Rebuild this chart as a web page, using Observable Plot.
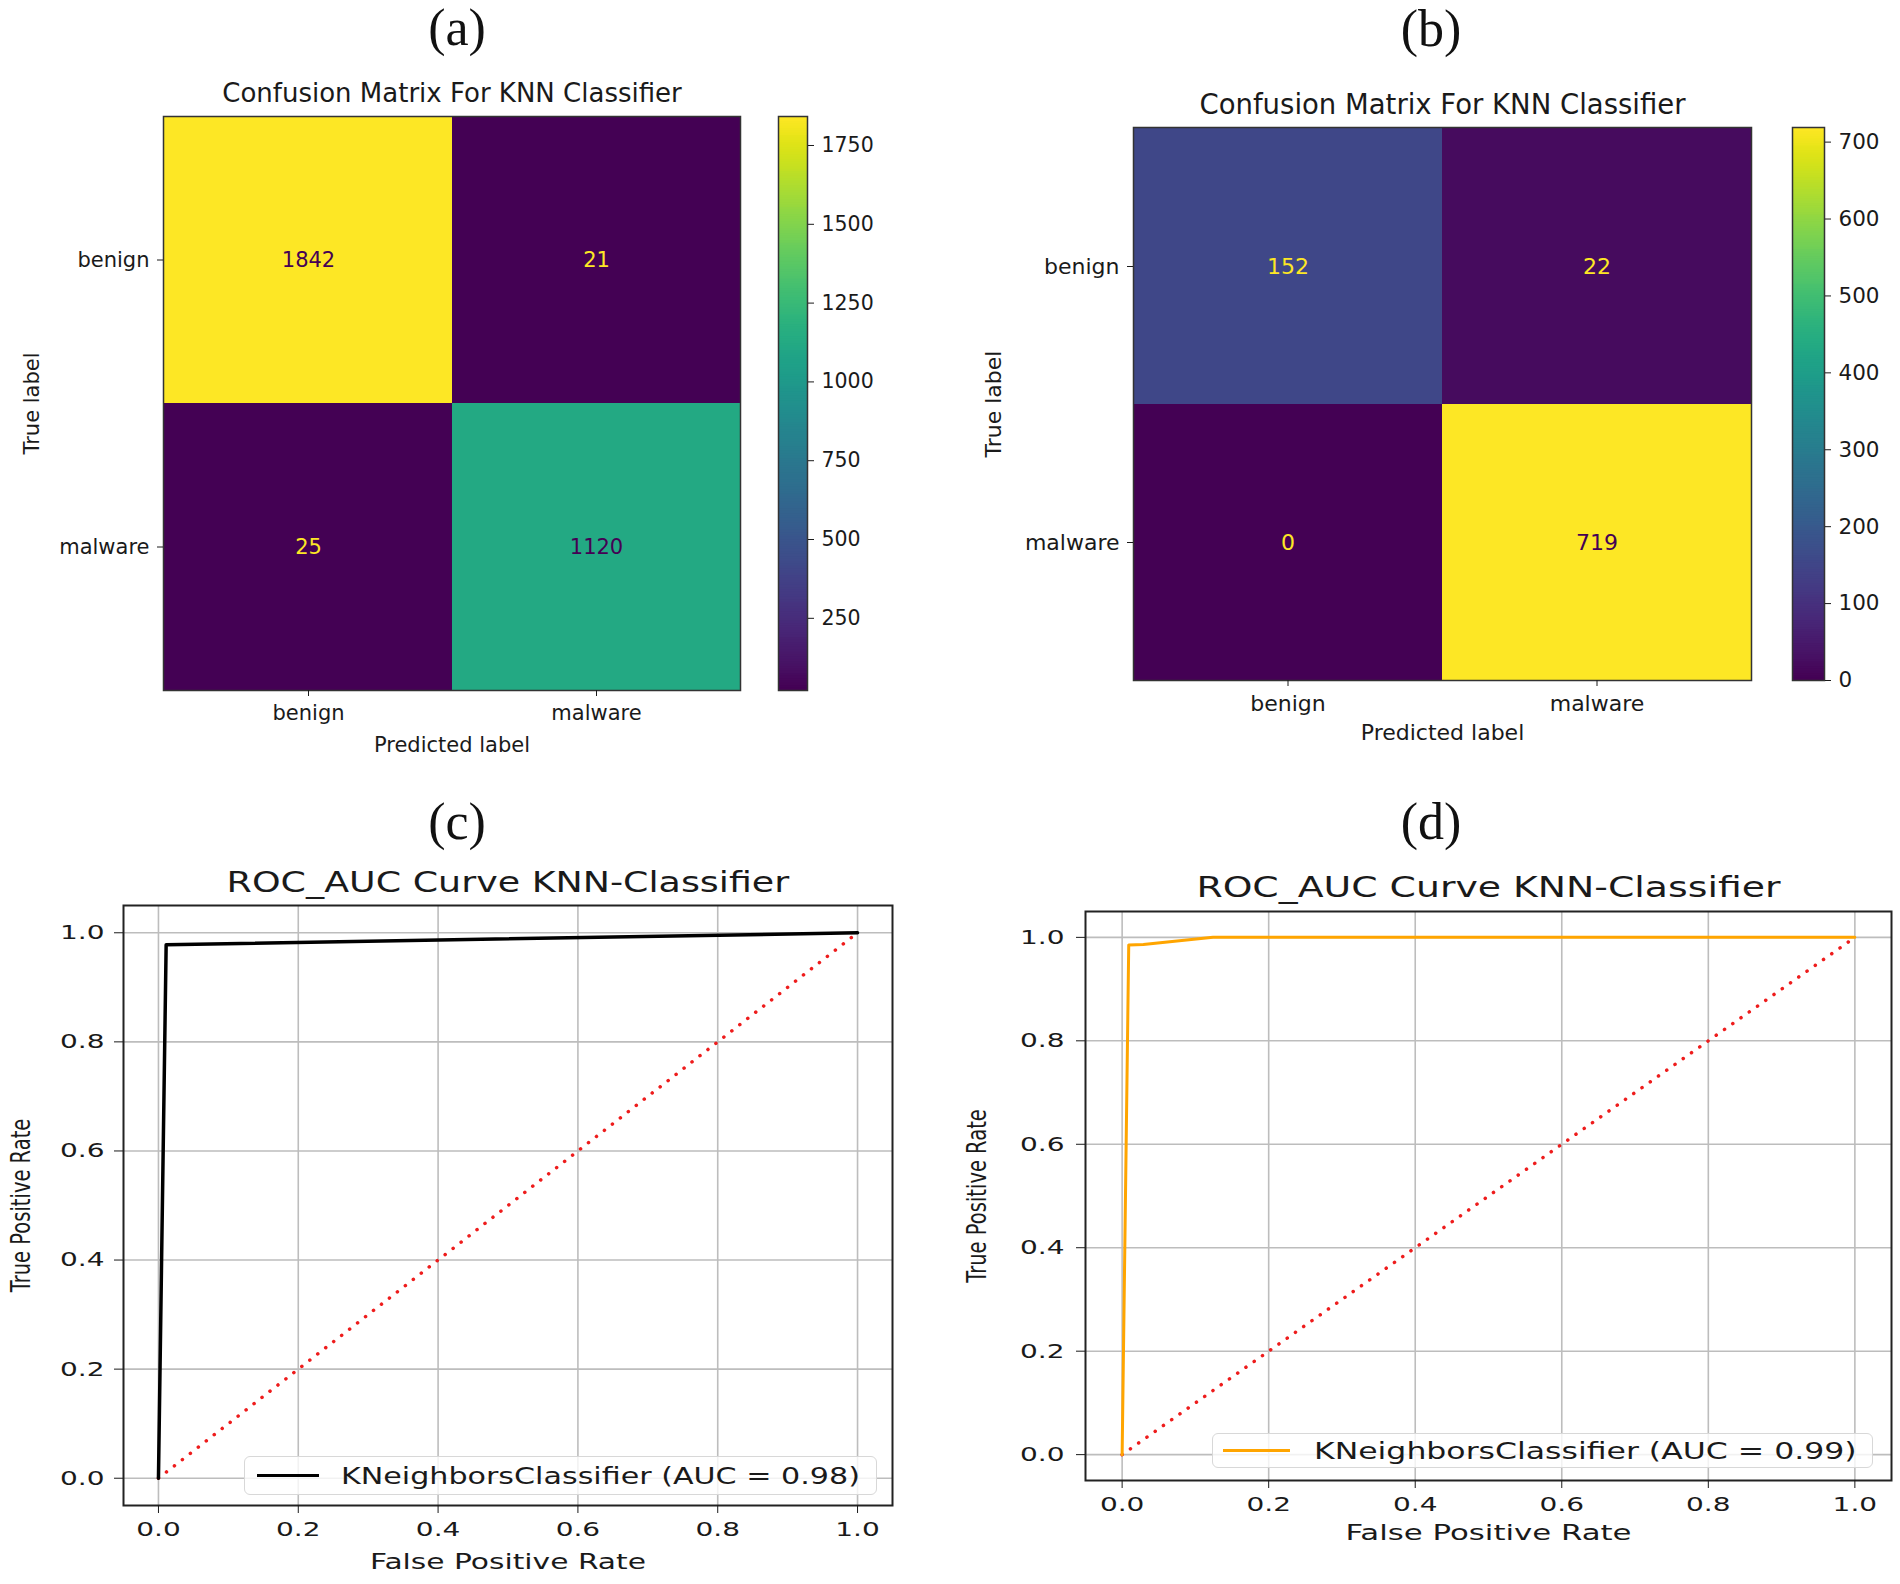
<!DOCTYPE html>
<html>
<head>
<meta charset="utf-8">
<script src="https://cdn.jsdelivr.net/npm/d3@7"></script>
<script src="https://cdn.jsdelivr.net/npm/@observablehq/plot@0.6"></script>
<style>
  body { margin: 0; background: #fff; }
  #root { position: relative; width: 1900px; height: 1584px; background: #fff; overflow: hidden; font-family: "DejaVu Sans"; color: #1a1a1a; }
  .wrap { position: absolute; }
  .panel-label { position: absolute; font-family: "Liberation Serif"; font-size: 52px; line-height: 52px; transform: translateX(-50%); white-space: nowrap; color: #111; }
  .legend { position: absolute; box-sizing: border-box; border: 1.5px solid #d8d8d8; border-radius: 6px; background: rgba(255,255,255,0.8); }
  .legend .sample { position: absolute; top: 50%; height: 3px; margin-top: -1.5px; }
  .legend .txt { position: absolute; top: 50%; transform-origin: left center; font-family: "DejaVu Sans"; font-size: 23px; line-height: 23px; white-space: nowrap; color: #1a1a1a; }
</style>
</head>
<body>
<div id="root"></div>
<script>
// ---------- data ----------
const labels = ["benign", "malware"];
const cmA = [[1842, 21], [25, 1120]];
const cmB = [[152, 22], [0, 719]];
const cbTicksA = [250, 500, 750, 1000, 1250, 1500, 1750];
const cbTicksB = [0, 100, 200, 300, 400, 500, 600, 700];
const rocTicks = [0, 0.2, 0.4, 0.6, 0.8, 1.0];
const rocC_fpr = [0, 0.011, 1];
const rocC_tpr = [0, 0.978, 1];
const rocD_fpr = [0, 0.009, 0.029, 0.124, 1];
const rocD_tpr = [0, 0.985, 0.986, 1, 1];
const chance = [0, 1];
const panelLabels = ["(a)", "(b)", "(c)", "(d)"];
const titleCM = "Confusion Matrix For KNN Classifier";
const titleROC = "ROC_AUC Curve KNN-Classifier";
const xLabelROC = "False Positive Rate";
const yLabelROC = "True Positive Rate";
const legendC = "KNeighborsClassifier (AUC = 0.98)";
const legendD = "KNeighborsClassifier (AUC = 0.99)";

const root = document.getElementById("root");
function place(node, left, top, w) {
  const d = document.createElement("div");
  d.className = "wrap";
  d.style.left = left + "px"; d.style.top = top + "px";
  if (w) d.style.width = w + "px";
  d.appendChild(node);
  root.appendChild(d);
  return d;
}
const baseStyle = (fs) => ({ fontFamily: "DejaVu Sans", fontSize: fs + "px", color: "#1a1a1a", background: "transparent", overflow: "visible" });

// ---------- confusion matrix + colorbar ----------
function heatmap(cm, o) {
  const cells = labels.flatMap((t, i) => labels.map((p, j) => ({ truth: t, pred: p, value: cm[i][j] })));
  const vals = cells.map(d => d.value);
  const lo = d3.min(vals), hi = d3.max(vals), mid = (lo + hi) / 2;
  const lowC = d3.interpolateViridis(0), highC = d3.interpolateViridis(1);
  const color = { type: "linear", scheme: "viridis", domain: [lo, hi] };
  const hm = Plot.plot({
    width: o.w, height: o.h, marginLeft: o.ml, marginRight: o.mr, marginTop: o.mt, marginBottom: o.mb,
    style: baseStyle(o.fs),
    x: { type: "band", domain: labels, padding: 0, label: null },
    y: { type: "band", domain: labels, padding: 0, label: null },
    color,
    marks: [
      Plot.cell(cells, { x: "pred", y: "truth", fill: "value", inset: 0 }),
      Plot.text(cells, { filter: d => d.value <= mid, x: "pred", y: "truth", text: d => String(d.value), fill: highC, fontSize: o.fs }),
      Plot.text(cells, { filter: d => d.value > mid, x: "pred", y: "truth", text: d => String(d.value), fill: lowC, fontSize: o.fs }),
      Plot.frame({ stroke: "#333", strokeWidth: 1.5 }),
      Plot.axisX({ tickSize: 6, tickPadding: 9, fontSize: o.fs, label: null }),
      Plot.axisY({ tickSize: 6, tickPadding: 8, fontSize: o.fs, label: null }),
      Plot.text([titleCM], { text: d => d, frameAnchor: "top", lineAnchor: "middle", textAnchor: "middle", dy: o.titleDy, fontSize: o.tfs }),
      Plot.text(["Predicted label"], { text: d => d, frameAnchor: "bottom", lineAnchor: "middle", textAnchor: "middle", dy: o.xlDy, fontSize: o.fs }),
      Plot.text(["True label"], { text: d => d, frameAnchor: "left", lineAnchor: "middle", textAnchor: "middle", rotate: -90, dx: o.ylDx, fontSize: o.fs })
    ]
  });
  place(hm, o.left, o.top, o.w);

  const N = 240, step = (hi - lo) / N;
  const ramp = d3.range(N).map(i => lo + step * i);
  const cb = Plot.plot({
    width: o.cbW, height: o.h, marginLeft: o.cbMl, marginRight: o.cbW - o.cbMl - o.cbBar, marginTop: o.mt, marginBottom: o.mb,
    style: baseStyle(o.cbFs),
    x: { domain: [0, 1], axis: null },
    y: { domain: [lo, hi], label: null },
    color,
    marks: [
      Plot.rect(ramp, { x1: () => 0, x2: () => 1, y1: d => d, y2: d => Math.min(hi, d + step * 1.6), fill: d => d + step / 2 }),
      Plot.frame({ stroke: "#333", strokeWidth: 1.5 }),
      Plot.axisY(o.cbTicks, { anchor: "right", tickSize: 6, tickPadding: 8, fontSize: o.cbFs, tickFormat: d => String(d), label: null })
    ]
  });
  place(cb, o.cbLeft, o.top, o.cbW);
}

heatmap(cmA, { left: 0, top: 0, w: 760, h: 780, ml: 163, mr: 20, mt: 116, mb: 90, fs: 21, tfs: 26,
  titleDy: -23, xlDy: 55, ylDx: -131,
  cbLeft: 740, cbW: 200, cbMl: 38, cbBar: 29, cbFs: 20.5, cbTicks: cbTicksA });
heatmap(cmB, { left: 950, top: 0, w: 820, h: 780, ml: 183, mr: 19, mt: 127, mb: 100, fs: 22, tfs: 27.5,
  titleDy: -22, xlDy: 52, ylDx: -140,
  cbLeft: 1751, cbW: 149, cbMl: 41, cbBar: 32, cbFs: 21.5, cbTicks: cbTicksB });

// horizontal stretch of glyphs (the ROC panels are horizontally stretched in the source)
function stretchEl(t, s, rotated) {
  const bb = t.getBBox();
  const tr = t.getAttribute("transform") || "";
  if (rotated) {
    const cy = bb.y + bb.height / 2;
    t.setAttribute("transform", `${tr} translate(0,${cy}) scale(1,${s}) translate(0,${-cy})`);
  } else {
    const a = getComputedStyle(t).textAnchor;
    const ax = a === "middle" ? bb.x + bb.width / 2 : a === "end" ? bb.x + bb.width : bb.x;
    t.setAttribute("transform", `${tr} translate(${ax},0) scale(${s},1) translate(${-ax},0)`);
  }
}
function stretchTicks(svg, s) {
  svg.querySelectorAll('g[aria-label="x-axis tick label"] text, g[aria-label="y-axis tick label"] text')
    .forEach(t => stretchEl(t, s, false));
}
function stretchByText(svg, content, s, rotated) {
  svg.querySelectorAll("text").forEach(t => { if (t.textContent === content) stretchEl(t, s, rotated); });
}

// ---------- ROC curves ----------
function roc(fpr, tpr, o) {
  const pts = fpr.map((f, i) => ({ fpr: f, tpr: tpr[i] }));
  const diag = chance.map(v => ({ x: v, y: v }));
  const p = Plot.plot({
    width: 950, height: 792, marginLeft: o.ml, marginRight: o.mr, marginTop: o.mt, marginBottom: o.mb,
    style: baseStyle(20),
    x: { domain: [-0.05, 1.05], label: null },
    y: { domain: [-0.05, 1.05], label: null },
    marks: [
      Plot.gridX(rocTicks, { stroke: "#bdbdbd", strokeOpacity: 1, strokeWidth: 1.6 }),
      Plot.gridY(rocTicks, { stroke: "#bdbdbd", strokeOpacity: 1, strokeWidth: 1.6 }),
      Plot.line(diag, { x: "x", y: "y", stroke: "#ee1c1c", strokeWidth: 3.5, strokeDasharray: "0.1,10", strokeLinecap: "round" }),
      Plot.line(pts, { x: "fpr", y: "tpr", stroke: o.color, strokeWidth: o.sw }),
      Plot.frame({ stroke: "#222", strokeWidth: 2 }),
      Plot.axisX(rocTicks, { tickSize: 8, tickPadding: 8, fontSize: 20, tickFormat: d3.format(".1f"), label: null }),
      Plot.axisY(rocTicks, { tickSize: 9, tickPadding: o.ytp, fontSize: 20, tickFormat: d3.format(".1f"), label: null }),
      Plot.text([titleROC], { text: d => d, frameAnchor: "top", lineAnchor: "middle", textAnchor: "middle", dy: o.titleDy, fontSize: 28 }),
      Plot.text([xLabelROC], { text: d => d, frameAnchor: "bottom", lineAnchor: "middle", textAnchor: "middle", dy: o.xlDy, fontSize: 22 }),
      Plot.text([yLabelROC], { text: d => d, frameAnchor: "left", lineAnchor: "middle", textAnchor: "middle", rotate: -90, dx: o.ylDx, fontSize: 19.5 })
    ]
  });
  place(p, o.left, o.top, 950);
  stretchTicks(p, 1.4);
  stretchByText(p, titleROC, o.titleS, false);
  stretchByText(p, xLabelROC, o.xlS, false);
  stretchByText(p, yLabelROC, 1.35, true);

  const lg = document.createElement("div");
  lg.className = "legend";
  Object.assign(lg.style, { left: o.lg.x + "px", top: o.lg.y + "px", width: o.lg.w + "px", height: o.lg.h + "px" });
  const s = document.createElement("div");
  s.className = "sample";
  Object.assign(s.style, { left: o.lg.sx + "px", width: o.lg.sw + "px", background: o.color });
  const t = document.createElement("div");
  t.className = "txt";
  t.style.left = o.lg.tx + "px";
  t.style.transform = `translateY(-50%) scaleX(${o.lg.s})`;
  t.textContent = o.legend;
  lg.appendChild(s); lg.appendChild(t);
  root.appendChild(lg);
}

roc(rocC_fpr, rocC_tpr, { left: 0, top: 792, ml: 123, mr: 58, mt: 113, mb: 79, color: "#000", sw: 3.5, ytp: 10,
  titleDy: -22, xlDy: 56, ylDx: -102, titleS: 1.3, xlS: 1.35, legend: legendC,
  lg: { x: 244, y: 1456, w: 633, h: 39, sx: 12, sw: 62, tx: 96, s: 1.31 } });
roc(rocD_fpr, rocD_tpr, { left: 950, top: 792, ml: 135, mr: 9, mt: 119, mb: 104, color: "#ffa500", sw: 3, ytp: 12,
  titleDy: -23, xlDy: 52, ylDx: -108, titleS: 1.35, xlS: 1.4, legend: legendD,
  lg: { x: 1212, y: 1433, w: 661, h: 35, sx: 10, sw: 67, tx: 101, s: 1.37 } });

// ---------- panel labels ----------
const labelPos = [[457, 2], [1431, 3], [457, 796], [1431, 796]];
panelLabels.forEach((txt, i) => {
  const d = document.createElement("div");
  d.className = "panel-label";
  d.style.left = labelPos[i][0] + "px";
  d.style.top = labelPos[i][1] + "px";
  d.textContent = txt;
  root.appendChild(d);
});
</script>
</body>
</html>
